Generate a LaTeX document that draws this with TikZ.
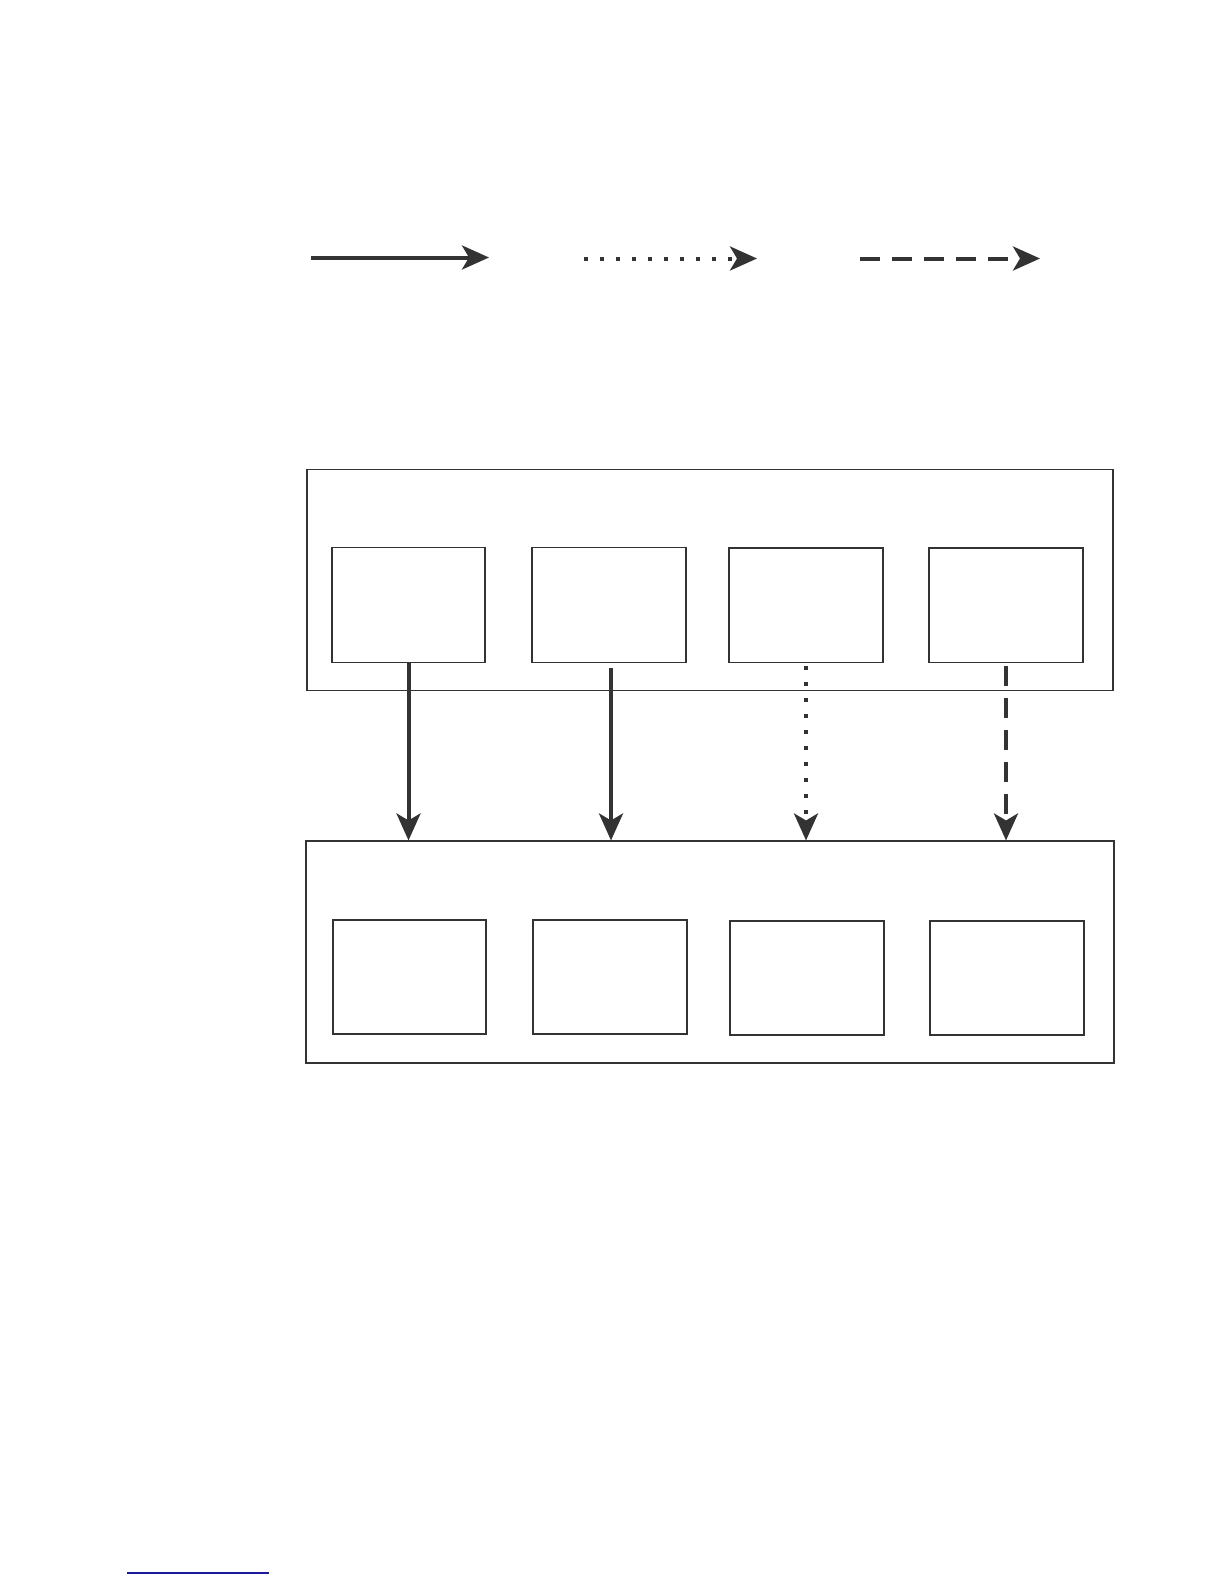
\documentclass[tikz,border=0pt]{standalone}
\usetikzlibrary{arrows.meta}
\definecolor{ink}{HTML}{333333}
\definecolor{footblue}{HTML}{1A1A9A}
\begin{document}
\begin{tikzpicture}[x=0.5pt,y=-0.5pt,
  box/.style={draw=ink,line width=0.55pt,rectangle,inner sep=0pt},
  conn/.style={draw=ink,line width=2pt,-{Stealth[length=13.5pt,width=12pt,inset=3.5pt]}},
  solidconn/.style={conn},
  dotconn/.style={conn,dash pattern=on 2pt off 6pt},
  dashconn/.style={conn,dash pattern=on 10pt off 6pt}]
\useasboundingbox (0,0) rectangle (1224,1584);
% legend
\coordinate (l1a) at (311,257.5); \coordinate (l1b) at (489,257.5);
\coordinate (l2a) at (584,258.5); \coordinate (l2b) at (757,258.5);
\coordinate (l3a) at (860,258.5); \coordinate (l3b) at (1040,258.5);
\draw[solidconn] (l1a) -- (l1b);
\draw[dotconn] (l2a) -- (l2b);
\draw[dashconn] (l3a) -- (l3b);
% top group
\node[box,minimum width=403pt,minimum height=110.6pt] (tout) at (710,580.2) {};
\node[box,minimum width=76.5pt,minimum height=57.75pt] (t1) at (408.5,604.8) {};
\node[box,minimum width=77pt,minimum height=57.75pt] (t2) at (609,604.8) {};
\node[box,minimum width=77pt,minimum height=57.25pt] (t3) at (806,605.2) {};
\node[box,minimum width=77pt,minimum height=57.25pt] (t4) at (1006,605.2) {};
% bottom group
\node[box,minimum width=404pt,minimum height=111pt] (bout) at (710,952) {};
\node[box,minimum width=76.5pt,minimum height=57pt] (b1) at (409.5,977) {};
\node[box,minimum width=77pt,minimum height=57pt] (b2) at (610,977) {};
\node[box,minimum width=77pt,minimum height=57pt] (b3) at (807,978) {};
\node[box,minimum width=77pt,minimum height=57pt] (b4) at (1007,978) {};
% connectors
\draw[solidconn] (t1.south) -- (t1.south |- bout.north);
\draw[solidconn,shorten <=2.5pt] (t2.south) ++(2,0) coordinate (t2s) -- (t2s |- bout.north);
\draw[dotconn,shorten <=1.5pt] (t3.south) -- (t3.south |- bout.north);
\draw[dashconn,shorten <=1.5pt] (t4.south) -- (t4.south |- bout.north);
% footnote rule
\coordinate (fa) at (127,1573); \coordinate (fb) at (269,1573);
\draw[footblue,line width=0.7pt] (fa) -- (fb);
\end{tikzpicture}
\end{document}
